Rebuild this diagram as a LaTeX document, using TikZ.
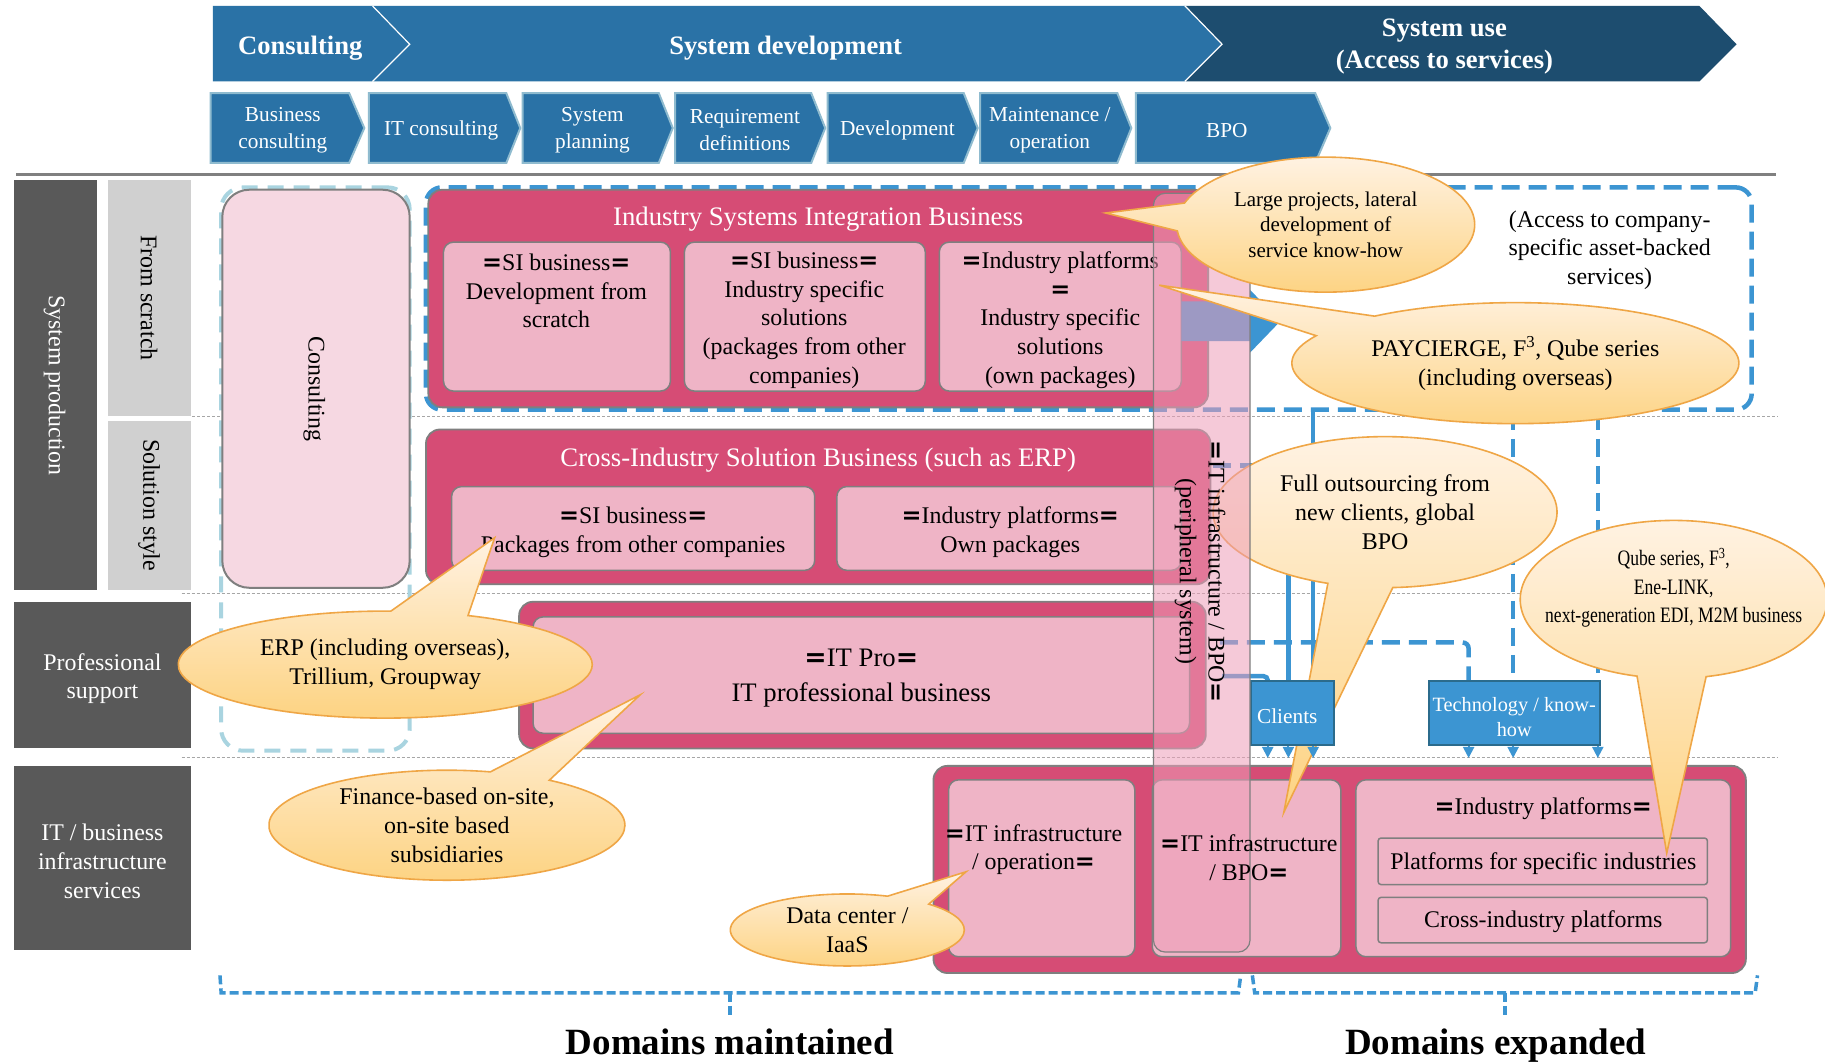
\documentclass[tikz,border=0pt]{standalone}
\usepackage{fontspec}
\setmainfont{Liberation Serif}
\newfontfamily\djv{DejaVu Sans}
\usetikzlibrary{shapes.callouts,fit,calc,arrows.meta}
\definecolor{bannerA}{HTML}{2A72A6}
\definecolor{bannerB}{HTML}{1D4D6F}
\definecolor{chevEdge}{HTML}{8FBBCF}
\definecolor{dgray}{HTML}{595959}
\definecolor{lgray}{HTML}{D0D0D0}
\definecolor{dpink}{HTML}{D64C75}
\definecolor{ipink}{HTML}{EFB4C6}
\definecolor{ppink}{HTML}{F6D8E2}
\definecolor{bluel}{HTML}{3C95D2}
\definecolor{blueedge}{HTML}{2B6B8C}
\definecolor{lblue}{HTML}{A9D4E0}
\definecolor{calTop}{HTML}{FFF2E2}
\definecolor{calBot}{HTML}{FDD382}
\definecolor{calEdge}{HTML}{EFA646}
\definecolor{edgegray}{HTML}{7F7F7F}
\definecolor{rulec}{HTML}{808080}
\definecolor{dotc}{HTML}{A6A6A6}
\definecolor{stripc}{HTML}{EE9DB8}
\newcommand\fA{\fontsize{23.9}{28.8}\selectfont}
\newcommand\fB{\fontsize{21.3}{26.8}\selectfont}
\newcommand\fC{\fontsize{26.7}{31.4}\selectfont}
\newcommand\fT{\fontsize{26.6}{31.4}\selectfont\bfseries}
\newcommand\fS{\fontsize{21}{25.6}\selectfont}
\newcommand\fD{\fontsize{37}{40}\selectfont\bfseries}
\newcommand\EQ{{\djv\bfseries =}}
\newcommand\sq[1]{\scalebox{0.8}[1]{#1}}
\newcommand\chevpath[3]{\path[chevst] (#1,80) -- (#2,80) -- (#3,110) -- (#2,140) -- (#1,140) -- cycle;}
\begin{document}
\begin{tikzpicture}[x=1.1639pt,y=-1.1639pt,
  chevst/.style={fill=bannerA, draw=chevEdge, line width=2pt},
  wtxt/.style={text=white, align=center, inner sep=0pt},
  txt/.style={align=center, inner sep=0pt, font=\fA},
  labdark/.style={fill=dgray, inner sep=0pt},
  lablight/.style={fill=lgray, inner sep=0pt},
  outerbox/.style={fill=dpink, draw=edgegray, line width=1.8pt, rounded corners=14pt, inner sep=0pt},
  innerbox/.style={fill=ipink, draw=edgegray, line width=1.5pt, rounded corners=10pt, inner sep=0pt},
  bline/.style={draw=bluel, line width=4.5pt},
  bdash/.style={bline, dash pattern=on 18pt off 9pt},
  bluebox/.style={fill=bluel, draw=blueedge, line width=1.8pt, inner sep=0pt},
  tipst/.style={draw=bluel, line width=2pt, -{Triangle[width=11pt,length=11pt]}},
  callst/.style={ellipse callout, draw=calEdge, line width=1.6pt, top color=calTop, bottom color=calBot, inner sep=0pt, align=center, font=\fA},
  bracket/.style={draw=bluel, line width=3.5pt, dash pattern=on 9pt off 4pt},
  dotline/.style={draw=dotc, line width=1pt, dash pattern=on 3pt off 2pt}
]
\useasboundingbox (0,0) rectangle (1568,912);
\fill[white] (0,0) rectangle (1568,912);

% ---- top banner
\path[fill=bannerA] (183,5) -- (320,5) -- (352,38) -- (320,70) -- (183,70) -- cycle;
\path[fill=bannerA] (320,5) -- (1018,5) -- (1050,38) -- (1018,70) -- (320,70) -- (352,38) -- cycle;
\path[fill=bannerB] (1018,5) -- (1460,5) -- (1492,38) -- (1460,70) -- (1018,70) -- (1050,38) -- cycle;
\draw[white, line width=1.2pt] (320,5) -- (352,38) -- (320,70);
\draw[white, line width=1.2pt] (1018,5) -- (1050,38) -- (1018,70);
\node[wtxt, font=\fT] (tcons) at (258,41) {Consulting};
\node[wtxt, font=\fT] (tdev) at (675,41) {System development};
\node[wtxt, font=\fT] (tuse) at (1241,40) {System use\\(Access to services)};

% ---- phase chevrons
\chevpath{181}{300}{313}
\chevpath{317}{435}{447}
\chevpath{449}{566}{578}
\chevpath{580}{697}{709}
\chevpath{711}{828}{840}
\chevpath{842}{960}{972}
\chevpath{976}{1130}{1143}
\node[wtxt, font=\fB] (p1) at (243,112) {Business\\consulting};
\node[wtxt, font=\fB] (p2) at (379,112) {IT consulting};
\node[wtxt, font=\fB] (p3) at (509,112) {System\\planning};
\node[wtxt, font=\fB] (p4) at (640,112) {Requirement\\definitions};
\node[wtxt, font=\fB] (p5) at (771,112) {Development};
\node[wtxt, font=\fB] (p6) at (902,112) {Maintenance /\\operation};
\node[wtxt, font=\fB] (p7) at (1054,112) {BPO};

\draw[draw=rulec, line width=3.5pt] (14,150) -- (1526,150);

% ---- left labels
\node[labdark, fit={(12,155)(83,507)}] (sysprod) {};
\node[rotate=-90, text=white, font=\fA, inner sep=0pt] (sysprodtxt) at (47,331) {System production};
\node[lablight, fit={(93,155)(164,357)}] (scratch) {};
\node[rotate=-90, font=\fA, inner sep=0pt] (scratchtxt) at (128,256) {From scratch};
\node[lablight, fit={(93,362)(164,507)}] (solution) {};
\node[rotate=-90, font=\fA, inner sep=0pt] (solutiontxt) at (128,434) {Solution style};
\node[labdark, fit={(12,517)(164,643)}] (prof) {};
\node[wtxt, font=\fA] (proftxt) at (88,583) {Professional\\support};
\node[labdark, fit={(12,658)(164,816)}] (itbiz) {};
\node[wtxt, font=\fA] (itbiztxt) at (88,740) {IT / business\\infrastructure\\services};

% ---- separators
\draw[dotline] (165,358) -- (1528,358);
\draw[dotline] (156,510) -- (1528,510);
\draw[dotline] (156,651) -- (1528,651);

% ---- consulting
\node[draw=lblue, line width=4pt, dash pattern=on 16pt off 10pt, rounded corners=22pt, inner sep=0pt, fit={(190,161)(352,645)}] (consgrp) {};
\node[fill=ppink, draw=edgegray, line width=2pt, rounded corners=27pt, inner sep=0pt, fit={(191,163)(352,505)}] (consult) {};
\node[rotate=-90, font=\fA, inner sep=0pt] (consulttxt) at (270,334) {Consulting};

% ---- access region
\node[bdash, rounded corners=16pt, inner sep=0pt, fit={(366,161)(1505,352)}] (access) {};
\node[txt] (accesstxt) at (1383,215) {(Access to company-\\specific asset-backed\\services)};

% ---- industry SI
\node[outerbox, fit={(368,163)(1038,350)}] (sib) {};
\node[wtxt, font=\fC] (sibtitle) at (703,188) {Industry Systems Integration Business};
\node[innerbox, fit={(381,208)(576,336)}] (si1) {};
\node[txt] (si1t) at (478,250) {\EQ SI business\EQ\\Development from\\scratch};
\node[innerbox, fit={(588,208)(795,336)}] (si2) {};
\node[txt] (si2t) at (691,275) {\EQ SI business\EQ\\Industry specific\\solutions\\(packages from other\\companies)};
\node[innerbox, fit={(807,208)(1015,336)}] (si3) {};
\node[txt] (si3t) at (911,275) {\EQ Industry platforms\\\EQ\\Industry specific\\solutions\\(own packages)};

% ---- cross industry
\node[outerbox, fit={(366,369)(1040,502)}] (cis) {};
\node[wtxt, font=\fC] (cistitle) at (703,395) {Cross-Industry Solution Business (such as ERP)};
\node[innerbox, fit={(388,418)(700,490)}] (cis1) {};
\node[txt] (cis1t) at (544,457) {\EQ SI business\EQ\\Packages from other companies};
\node[innerbox, fit={(719,418)(1015,490)}] (cis2) {};
\node[txt] (cis2t) at (868,457) {\EQ Industry platforms\EQ\\Own packages};

% ---- IT pro
\node[outerbox, fit={(446,517)(1036,643)}] (itpro) {};
\node[innerbox, fit={(458,530)(1022,630)}] (itpro1) {};
\node[txt, font=\fontsize{26.7}{35}\selectfont] (itpro1t) at (740,583) {\EQ IT Pro\EQ\\IT professional business};

% ---- infrastructure
\node[outerbox, fit={(802,658)(1500,836)}] (infra) {};
\node[innerbox, fit={(815,670)(975,822)}] (infra1) {};
\node[txt] (infra1t) at (888,730) {\EQ IT infrastructure\\/ operation\EQ};
\node[innerbox, fit={(990,670)(1152,822)}] (infra2) {};
\node[innerbox, fit={(1165,670)(1487,822)}] (infra3) {};
\node[txt] (infra3t) at (1326,695) {\EQ Industry platforms\EQ};
\node[innerbox, rounded corners=3pt, fit={(1184,720)(1467,760)}] (pfs) {};
\node[txt] (pfst) at (1326,742) {Platforms for specific industries};
\node[innerbox, rounded corners=3pt, fit={(1184,771)(1467,810)}] (cip) {};
\node[txt] (cipt) at (1326,792) {Cross-industry platforms};

% ---- blue arrow behind strip
\fill[bluel] (1015,259) -- (1074,259) -- (1074,249) -- (1100,276) -- (1074,303) -- (1074,293) -- (1015,293) -- cycle;

% ---- connector anchors
\coordinate (clNW) at (1075,585);
\coordinate (clSE) at (1146,640);
\coordinate (tkNW) at (1228,585);
\coordinate (tkSE) at (1375,640);
\coordinate (cA) at ($(clNW)!0.2!(clNW -| clSE)$);
\coordinate (cB) at ($(clNW)!0.45!(clNW -| clSE)$);
\coordinate (cC) at ($(clNW)!0.75!(clNW -| clSE)$);
\coordinate (tA) at ($(tkNW)!0.23!(tkNW -| tkSE)$);
\coordinate (tB) at ($(tkNW)!0.49!(tkNW -| tkSE)$);
\coordinate (tC) at ($(tkNW)!0.985!(tkNW -| tkSE)$);
\coordinate (s400) at (1042,400);
\coordinate (s552) at (1048,552);
\coordinate (s581) at (1050,581);

\draw[bline] (cC |- access.south) -- (cC);
\draw[bdash] (s400) -- (cB |- s400);
\draw[bline] (cB |- s400) -- (cB);
\draw[bline, rounded corners=4pt] (s581) -- (cA |- s581) -- (cA);
\draw[bdash, rounded corners=6pt] (s552) -- (tA |- s552) -- (tA);
\draw[bdash] (tB |- access.south) -- (tB);
\draw[bdash] (tC |- access.south) -- (tC);

% ---- callout below strip
\node[callst, minimum width=344pt, minimum height=151pt, callout absolute pointer={(1103,698)}, callout pointer arc=22] (full) at (1190,440) {Full outsourcing from\\new clients, global\\BPO};

% ---- clients / technology
\node[bluebox, fit={(clNW)(clSE)}] (clients) {};
\node[wtxt, font=\fB] (clientst) at (1106,615) {Clients};
\node[bluebox, fit={(tkNW)(tkSE)}] (tech) {};
\node[wtxt, font=\fontsize{20.3}{25.6}\selectfont] (techt) at (1301,616) {Technology / know-\\how};
\foreach \c in {cA,cB,cC} \draw[tipst] (\c |- clients.south) -- ($(\c |- infra.north)+(0,-6)$);
\foreach \c in {tA,tB,tC} \draw[tipst] (\c |- tech.south) -- ($(\c |- infra.north)+(0,-6)$);

% ---- strip
\node[fit={(991,166)(1074,818)}, inner sep=0pt, fill=stripc, fill opacity=0.55, draw=edgegray, draw opacity=1, line width=1.2pt, rounded corners=12pt] (strip) {};
\node[rotate=-90, txt] (striptxt) at (1031,491) {\EQ IT infrastructure / BPO\EQ\\(peripheral system)};
\node[txt] (infra2t) at (1073,737) {\EQ IT infrastructure\\/ BPO\EQ};

% ---- callouts
\node[callst, font=\fS, minimum width=298pt, minimum height=135pt, callout absolute pointer={(950,183)}, callout pointer arc=24] (large) at (1139,193) {Large projects, lateral\\development of\\service know-how};
\node[callst, minimum width=447pt, minimum height=121pt, callout absolute pointer={(996,245)}, callout pointer arc=24] (pay) at (1302,312) {PAYCIERGE, F\textsuperscript{3}, Qube series\\(including overseas)};
\node[callst, minimum width=307pt, minimum height=158pt, callout absolute pointer={(1432,733)}, callout pointer arc=26] (qube) at (1438,515) {};
\node[txt, font=\fontsize{22}{28.5}\selectfont] (qubetxt) at (1438,505) {\sq{Qube series, F\textsuperscript{3},}\\\sq{Ene-LINK,}\\\sq{next-generation EDI, M2M business}};
\node[callst, minimum width=414pt, minimum height=107pt, callout absolute pointer={(425,462)}, callout pointer arc=22] (erp) at (331,571) {ERP (including overseas),\\Trillium, Groupway};
\node[callst, minimum width=356pt, minimum height=110pt, callout absolute pointer={(550,597)}, callout pointer arc=21] (fin) at (384,709) {Finance-based on-site,\\on-site based\\subsidiaries};
\node[callst, minimum width=234pt, minimum height=72pt, callout absolute pointer={(830,749)}, callout pointer arc=24] (dc) at (728,799) {Data center /\\IaaS};

% ---- domain brackets
\draw[bracket] (189,838) -- (190,853) -- (1064,853) -- (1066,838);
\draw[bracket] (1076,838) -- (1078,853) -- (1508,853) -- (1510,838);
\node[font=\fD, inner sep=0pt, anchor=base] (dmain) at (627,906) {Domains maintained};
\node[font=\fD, inner sep=0pt, anchor=base] (dexp) at (1285,906) {Domains expanded};
\coordinate (tk1) at (627,853);
\coordinate (tk2) at (1293,853);
\draw[bracket, shorten >=14pt] (tk1) -- (tk1 |- dmain.north);
\draw[bracket, shorten >=14pt] (tk2) -- (tk2 |- dexp.north);
\end{tikzpicture}
\end{document}
